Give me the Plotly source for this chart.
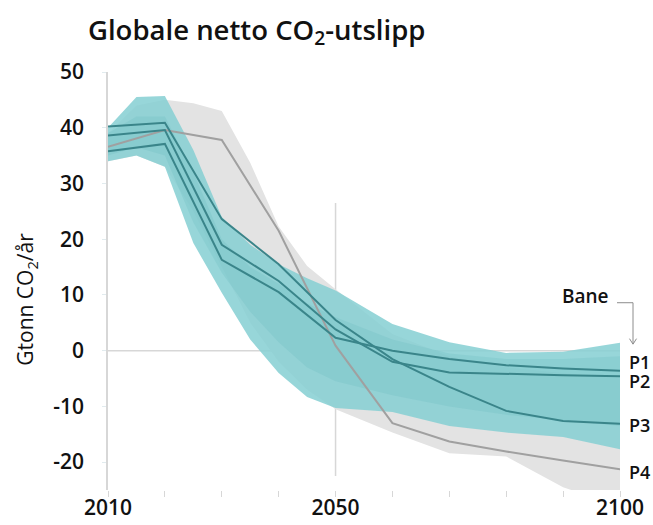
import plotly.graph_objects as go

# ---- data -------------------------------------------------------------
band_years = [2010, 2015, 2020, 2025, 2030, 2035, 2040, 2045, 2050, 2060, 2070, 2080, 2090, 2100]

# envelope of 1.5 °C pathways with no or limited overshoot
teal_upper = [40.0, 45.5, 45.7, 36.0, 24.0, 19.0, 15.5, 13.0, 10.8, 4.8, 1.5, -0.4, -0.2, 1.4]
teal_lower = [34.0, 35.0, 33.0, 19.3, 10.4, 2.0, -4.0, -8.3, -10.3, -11.0, -13.5, -14.7, -15.5, -17.7]
# denser core of the same pathway set
core_upper = [39.0, 42.0, 42.0, 32.0, 20.0, 15.0, 12.0, 8.5, 6.0, 2.0, -0.5, -1.5, -1.5, -1.0]
core_lower = [35.0, 36.5, 35.0, 23.0, 14.0, 7.0, 1.5, -3.0, -5.5, -8.0, -10.0, -11.5, -12.5, -13.5]

# envelope of pathways with higher overshoot
gray_upper = [39.0, 44.0, 45.0, 44.4, 43.0, 33.7, 22.3, 15.2, 11.0, 3.0, -1.0, -3.0, -4.0, -5.0]
gray_lower = [34.0, 35.0, 33.0, 25.0, 15.0, 5.0, -2.0, -7.0, -10.5, -14.7, -18.4, -19.0, -24.5, -28.0]

path_years = [2010, 2020, 2030, 2040, 2050, 2060, 2070, 2080, 2090, 2100]
p1 = [35.8, 37.1, 16.3, 10.5, 2.3, 0.0, -1.5, -2.6, -3.2, -3.6]
p2 = [38.6, 39.6, 19.0, 12.5, 3.8, -2.0, -3.9, -4.2, -4.4, -4.6]
p3 = [40.2, 40.9, 23.6, 15.5, 5.5, -1.5, -6.5, -10.8, -12.6, -13.1]
p4 = [36.6, 39.6, 37.8, 21.5, 0.9, -13.0, -16.3, -18.1, -19.7, -21.3]

path_names = ["P1", "P2", "P3", "P4"]
path_label_y = [-2.1, -5.4, -13.3, -21.7]

x_tick_vals = list(range(2010, 2101, 10))
x_tick_text = ["2010", "", "", "", "2050", "", "", "", "", "2100"]
y_tick_vals = [-20, -10, 0, 10, 20, 30, 40, 50]
y_tick_text = ["-20", "-10", "0", "10", "20", "30", "40", "50"]

# ---- styling ----------------------------------------------------------
FONT = "Open Sans"
TEAL_FILL = "rgba(134,207,211,0.86)"
CORE_FILL = "rgba(95,178,184,0.20)"
GRAY_FILL = "rgb(227,227,227)"
TEAL_LINE = "rgb(58,133,138)"
GRAY_LINE = "rgb(160,160,160)"
AXIS_GRAY = "rgb(215,215,215)"

X0, X1 = 2010, 2100
Y0, Y1 = -25, 50

fig = go.Figure()


def add_band(upper, lower, color):
    fig.add_trace(go.Scatter(x=band_years, y=lower, mode="lines",
                             line=dict(width=0), hoverinfo="skip", showlegend=False))
    fig.add_trace(go.Scatter(x=band_years, y=upper, mode="lines", fill="tonexty",
                             fillcolor=color, line=dict(width=0),
                             hoverinfo="skip", showlegend=False))


add_band(gray_upper, gray_lower, GRAY_FILL)
add_band(teal_upper, teal_lower, TEAL_FILL)
add_band(core_upper, core_lower, CORE_FILL)

fig.add_trace(go.Scatter(x=path_years, y=p4, mode="lines",
                         line=dict(color=GRAY_LINE, width=2), showlegend=False))
for vals in (p3, p2, p1):
    fig.add_trace(go.Scatter(x=path_years, y=vals, mode="lines",
                             line=dict(color=TEAL_LINE, width=2), showlegend=False))

# reference lines behind the bands
fig.add_shape(type="line", xref="x", yref="y", x0=X0, x1=X1, y0=0, y1=0,
              line=dict(color=AXIS_GRAY, width=1.5), layer="below")
fig.add_shape(type="line", xref="x", yref="y", x0=2050, x1=2050, y0=26.5, y1=-22.5,
              line=dict(color=AXIS_GRAY, width=1.5), layer="below")

# pathway labels at the right edge
for name, yv in zip(path_names, path_label_y):
    fig.add_annotation(x=1.014, xref="paper", y=yv, yref="y", text=name,
                       showarrow=False, xanchor="left", yanchor="middle",
                       font=dict(family=FONT, size=18, color="#111", weight=600))


# "Bane" header with bent arrow
def px(xp):
    return (xp - 108) / 512.0


def py(yp):
    return (490.5 - yp) / 418.5


fig.add_annotation(x=px(611), xref="paper", y=py(296), yref="paper", text="Bane",
                   showarrow=False, xanchor="right", yanchor="middle",
                   font=dict(family=FONT, size=19, color="#111", weight=600))
fig.add_shape(type="path", xref="paper", yref="paper",
              path=f"M {px(617)} {py(303)} L {px(633)} {py(303)} L {px(633)} {py(344)}",
              line=dict(color="rgb(140,140,140)", width=1))
fig.add_shape(type="path", xref="paper", yref="paper",
              path=f"M {px(629.5)} {py(339)} L {px(633)} {py(344.5)} L {px(636.5)} {py(339)}",
              line=dict(color="rgb(140,140,140)", width=1))

# y-axis title
fig.add_annotation(x=px(26), xref="paper", y=py(300), yref="paper",
                   text="Gtonn CO<sub>2</sub>/år", textangle=-90, showarrow=False,
                   xanchor="center", yanchor="middle",
                   font=dict(family=FONT, size=21, color="#111"))

fig.update_layout(
    width=653, height=525,
    margin=dict(l=108, r=33, t=72, b=34.5, autoexpand=False),
    paper_bgcolor="white", plot_bgcolor="white",
    title=dict(text="Globale netto CO<sub>2</sub>-utslipp", x=88 / 653, xanchor="left",
               xref="container", y=1 - 30 / 525, yref="container", yanchor="middle",
               font=dict(family=FONT, size=27.5, color="#111", weight=600)),
    xaxis=dict(range=[X0, X1], tickmode="array", tickvals=x_tick_vals, ticktext=x_tick_text,
               showgrid=False, zeroline=False, showline=False, automargin=False,
               ticks="outside", ticklen=6, tickcolor=AXIS_GRAY, tickwidth=1,
               ticklabelstandoff=-7,
               tickfont=dict(family=FONT, size=21, color="#111", weight=600)),
    yaxis=dict(range=[Y0, Y1], tickmode="array", tickvals=y_tick_vals, ticktext=y_tick_text,
               showgrid=False, zeroline=False, showline=True, linecolor=AXIS_GRAY, linewidth=1.5,
               automargin=False,
               ticks="outside", ticklen=4, tickcolor="rgb(225,235,238)", tickwidth=1,
               ticklabelstandoff=14,
               tickfont=dict(family=FONT, size=21, color="#111", weight=600)),
)

fig.write_html("out.html")
